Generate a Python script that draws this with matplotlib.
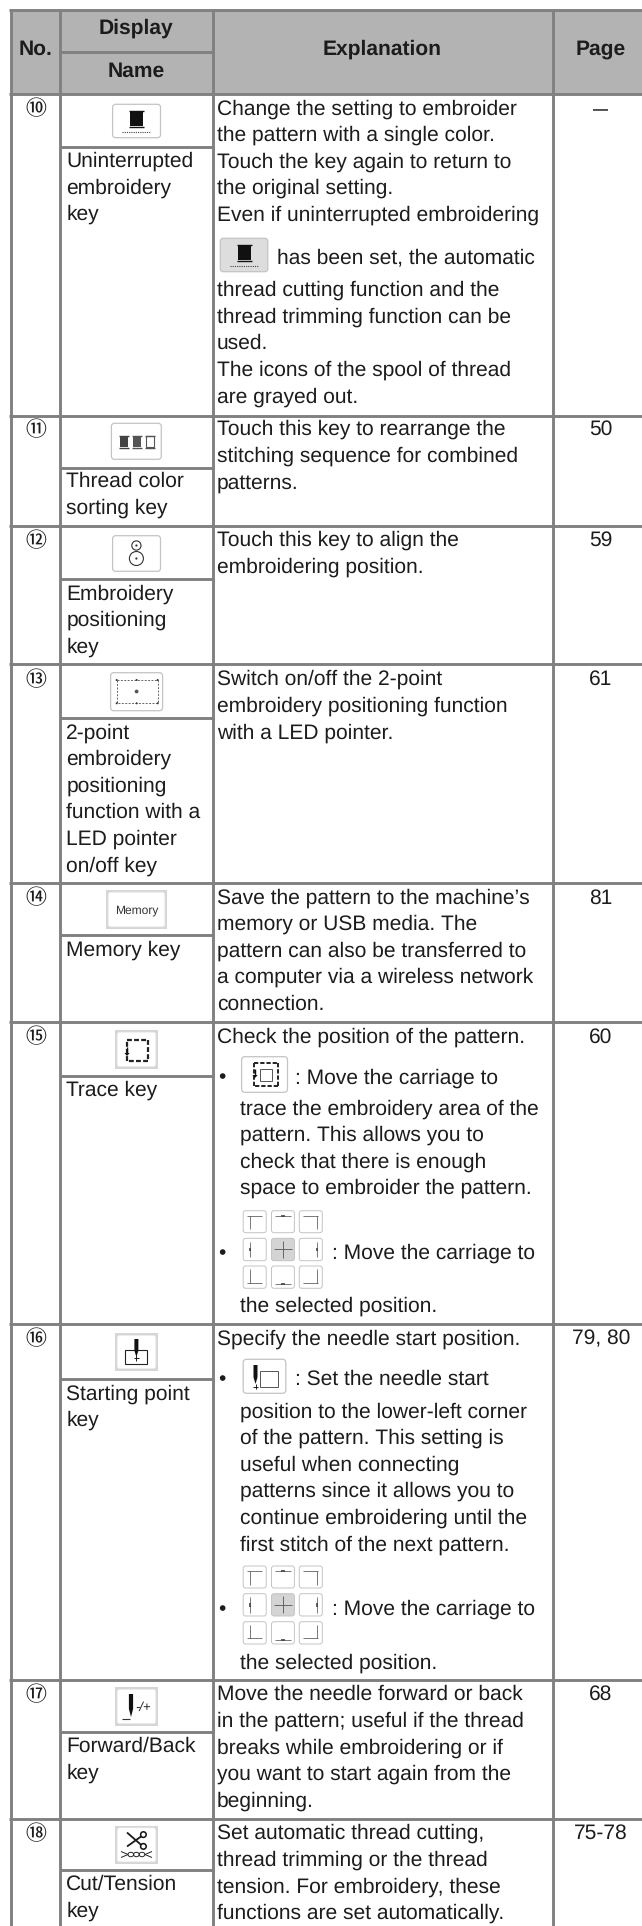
import matplotlib
matplotlib.use("Agg")
import matplotlib.pyplot as plt
from matplotlib.patches import Rectangle, FancyBboxPatch, Circle, Ellipse, Polygon

plt.rcParams["text.hinting"] = "no_hinting"
plt.rcParams["text.hinting_factor"] = 1

W, H = 642, 1926
FONT = "Liberation Sans"
FS = 15.3
FS_HEAD = 15.2
INK = "#1c1c1c"
LINE = "#808080"
HEAD = "#b3b3b3"
KEYEDGE = "#c4c4c4"

# ---- content ----
headers = ["No.", "Display", "Name", "Explanation", "Page"]
numbers = ["⑩", "⑪", "⑫", "⑬", "⑭", "⑮", "⑯", "⑰", "⑱"]
pages = ["—", "50", "59", "61", "81", "60", "79, 80", "68", "75-78"]
names = [
    ["Uninterrupted", "embroidery", "key"],
    ["Thread color", "sorting key"],
    ["Embroidery", "positioning", "key"],
    ["2-point", "embroidery", "positioning", "function with a", "LED pointer", "on/off key"],
    ["Memory key"],
    ["Trace key"],
    ["Starting point", "key"],
    ["Forward/Back", "key"],
    ["Cut/Tension", "key"],
]
explain = [
    ["Change the setting to embroider", "the pattern with a single color.", "Touch the key again to return to",
     "the original setting.", "Even if uninterrupted embroidering"],
    ["Touch this key to rearrange the", "stitching sequence for combined", "patterns."],
    ["Touch this key to align the", "embroidering position."],
    ["Switch on/off the 2-point", "embroidery positioning function", "with a LED pointer."],
    ["Save the pattern to the machine’s", "memory or USB media. The", "pattern can also be transferred to",
     "a computer via a wireless network", "connection."],
    ["Check the position of the pattern."],
    ["Specify the needle start position."],
    ["Move the needle forward or back", "in the pattern; useful if the thread", "breaks while embroidering or if",
     "you want to start again from the", "beginning."],
    ["Set automatic thread cutting,", "thread trimming or the thread", "tension. For embroidery, these",
     "functions are set automatically."],
]
row10_tail = ["thread cutting function and the", "thread trimming function can be", "used.",
              "The icons of the spool of thread", "are grayed out."]
row10_inline = "has been set, the automatic"
trace_inline = ": Move the carriage to"
trace_more = ["trace the embroidery area of the", "pattern. This allows you to",
              "check that there is enough", "space to embroider the pattern."]
selected = "the selected position."
start_inline = ": Set the needle start"
start_more = ["position to the lower-left corner", "of the pattern. This setting is", "useful when connecting",
              "patterns since it allows you to", "continue embroidering until the", "first stitch of the next pattern."]

# ---- layout (pixels) ----
col_x = [11, 60, 212.5, 552.5]
row_tops = [94, 415.7, 525.7, 664.3, 883.3, 1022.3, 1324.3, 1680, 1819.3]
name_seps = [146.7, 468.3, 579, 718.3, 935, 1076, 1379.3, 1731.7, 1870]
first_base = [114.3, 435, 546, 685, 903.3, 1042.7, 1344.3, 1700, 1839]
name_base = [166.7, 486.7, 599.3, 738.3, 956, 1096, 1399.3, 1751.7, 1890]
PITCH = 26.6
X_NUM, X_NAME, X_EXP, X_IND, X_PAGE, X_DISP = 36, 66.3, 217, 240.4, 600.7, 136.4

fig = plt.figure(figsize=(W / 100, H / 100), dpi=100, facecolor="white")
ax = fig.add_axes([0, 0, 1, 1])
ax.set_xlim(0, W)
ax.set_ylim(H, 0)
ax.axis("off")


def t(x, y, s, size=FS, weight="normal", ha="left", color=INK, family=FONT, **kw):
    ax.text(x, y, s, fontsize=size, fontweight=weight, ha=ha, va="baseline", color=color,
            family=family, zorder=9, **kw)


def L(xs, ys, c="#1a1a1a", lw=0.8, **kw):
    ax.plot(xs, ys, color=c, lw=lw, solid_capstyle="butt", zorder=6, **kw)


def key(x0, x1, y0, y1, face="white", edge=KEYEDGE, r=3.0, lw=0.9, z=5):
    ax.add_patch(FancyBboxPatch((x0 + r, y0 + r), x1 - x0 - 2 * r, y1 - y0 - 2 * r,
                                boxstyle=f"round,pad={r},rounding_size={r}", fc=face, ec=edge, lw=lw, zorder=z))


def framed(x0, x1, y0, y1):
    ax.add_patch(Rectangle((x0, y0), x1 - x0, y1 - y0, fc="#d6d6d6", ec="none", zorder=4))
    key(x0 + 2.2, x1 - 2.2, y0 + 2.2, y1 - 2.2, edge="#ececec", r=2.5, lw=0.5)


def spool(cx, y0, y1, w, color="#111111", hollow=False):
    if hollow:
        ax.add_patch(Rectangle((cx - w / 2 + 1, y0 + 1.5), w - 2, y1 - y0 - 3, fc="white", ec="#555555", lw=0.8, zorder=6))
    else:
        ax.add_patch(Rectangle((cx - w / 2 + 1, y0 + 1.5), w - 2, y1 - y0 - 3, fc=color, ec="none", zorder=6))
    for yy in (y0 + 0.7, y1 - 0.7):
        L([cx - w / 2, cx + w / 2], [yy, yy], c="#555555" if hollow else color, lw=1.0)


def needle(cx, y0, y1, w=4.0):
    ax.add_patch(Polygon([(cx - w / 2, y0), (cx + w / 2, y0), (cx + w / 2, y0 + (y1 - y0) * 0.65),
                          (cx, y1), (cx - w / 2, y0 + (y1 - y0) * 0.65)], fc="#111111", ec="none", zorder=7))


def grid3(y_rows):
    xs = [(243.2, 266.2), (271.5, 294.4), (299.3, 322.3)]
    for r, (y0, y1) in enumerate(y_rows):
        for c, (x0, x1) in enumerate(xs):
            centre = r == 1 and c == 1
            key(x0, x1, y0, y1, face="#d4d4d4" if centre else "white", r=2.5, lw=0.7)
            w, h = x1 - x0, y1 - y0
            px = lambda f: x0 + f * w
            py = lambda f: y0 + f * h
            col = "#444444"
            if centre:
                L([px(.12), px(.88)], [py(.5), py(.5)], c="#666666", lw=0.7)
                L([px(.5), px(.5)], [py(.12), py(.88)], c="#666666", lw=0.7)
            elif r == 1:
                vx = .28 if c == 0 else .75
                L([px(vx), px(vx)], [py(.15), py(.85)], c=col, lw=0.5)
                L([px(vx), px(vx)], [py(.42), py(.58)], c=col, lw=1.2)
            elif c == 1:
                hy = .23 if r == 0 else .8
                L([px(.15), px(.85)], [py(hy), py(hy)], c=col, lw=0.5)
                L([px(.42), px(.58)], [py(hy), py(hy)], c=col, lw=1.2)
            else:
                hy = .23 if r == 0 else .75
                cx_ = .28 if c == 0 else .75
                L([px(.18), px(.82)], [py(hy), py(hy)], c=col, lw=0.5)
                vy = [py(hy), py(.85)] if r == 0 else [py(.15), py(hy)]
                L([px(cx_), px(cx_)], vy, c=col, lw=0.5)


def dashed_rect(x0, x1, y0, y1, lw=1.6, dash=(2.2, 1.0)):
    for xs, ys in (([x0, x1], [y0, y0]), ([x1, x1], [y0, y1]), ([x1, x0], [y1, y1]), ([x0, x0], [y1, y0])):
        ax.plot(xs, ys, color="#222222", lw=lw, linestyle=(0, dash), zorder=6)


def down_arrow(x, y0, y1):
    L([x, x], [y0, y1 - 2], c="#111111", lw=1.0)
    ax.add_patch(Polygon([(x - 2.6, y1 - 3), (x + 2.6, y1 - 3), (x, y1)], fc="#111111", ec="none", zorder=7))


# ---- table frame ----
ax.add_patch(Rectangle((col_x[0], 10), W - col_x[0], 84, fc=HEAD, ec="none", zorder=1))
LW_H = 2.9 * 0.72
for y in [10] + row_tops:
    ax.plot([9, W], [y, y], color=LINE, lw=LW_H, solid_capstyle="butt", zorder=3)
for y in [51.7] + name_seps:
    ax.plot([col_x[1], col_x[2]], [y, y], color=LINE, lw=LW_H, solid_capstyle="butt", zorder=3)
for x in col_x:
    ax.plot([x, x], [9, H], color=LINE, lw=LW_H, solid_capstyle="butt", zorder=3)

# ---- header ----
t(X_NUM, 55, headers[0], size=FS_HEAD, weight="bold", ha="center")
t(X_DISP, 34, headers[1], size=FS_HEAD, weight="bold", ha="center")
t(X_DISP, 77, headers[2], size=FS_HEAD, weight="bold", ha="center")
t(381.7, 55, headers[3], size=FS_HEAD, weight="bold", ha="center")
t(X_PAGE, 55, headers[4], size=FS_HEAD, weight="bold", ha="center")

# ---- cells ----
for i in range(len(numbers)):
    t(X_NUM, first_base[i] + 1.0, numbers[i], size=15, ha="center", family="Noto Sans CJK JP")
    if pages[i] == "—":
        t(X_PAGE, first_base[i] - 0.5, pages[i], size=11, weight="bold", ha="center")
    else:
        t(X_PAGE, first_base[i], pages[i], ha="center")
    for j, s in enumerate(names[i]):
        t(X_NAME, name_base[i] + j * PITCH, s)
    for j, s in enumerate(explain[i]):
        t(X_EXP, first_base[i] + j * PITCH, s)

# row 10 remainder
t(277, 263.3, row10_inline)
for j, s in enumerate(row10_tail):
    t(X_EXP, 296 + j * PITCH, s)

# row 15 remainder
t(222, 1083.3, "•", ha="center")
t(294.8, 1083.3, trace_inline)
for j, s in enumerate(trace_more):
    t(X_IND, 1114.3 + j * PITCH, s)
t(222, 1259, "•", ha="center")
t(331.7, 1259, trace_inline)
t(X_IND, 1311.7, selected)

# row 16 remainder
t(222, 1385, "•", ha="center")
t(294.8, 1385, start_inline)
for j, s in enumerate(start_more):
    t(X_IND, 1417.3 + j * PITCH, s)
t(222, 1615, "•", ha="center")
t(331.7, 1615, trace_inline)
t(X_IND, 1668.3, selected)

# ---- icons ----
# row 10
key(112.6, 160.5, 104.3, 137.7)
spool(136.4, 110.5, 128, 15)
ax.plot([122, 150], [132.5, 132.5], color="#444444", lw=0.8, linestyle=(0, (1, 1)), zorder=6)
key(220.3, 267.8, 238.3, 271.7, face="#dddddd")
spool(244, 244, 261.5, 15)
ax.plot([230, 258], [266.5, 266.5], color="#444444", lw=0.8, linestyle=(0, (1, 1)), zorder=6)

# row 11
key(111.4, 161.3, 423.3, 459.3)
spool(123.7, 435, 448.5, 10, color="#444444")
spool(136.6, 435, 448.5, 10, color="#555555")
spool(149.5, 435, 448.5, 10, hollow=True)

# row 12
key(112.6, 160.5, 535.7, 571.3)
ax.add_patch(Circle((136.4, 545.5), 4.6, fc="white", ec="#333333", lw=0.8, zorder=6))
ax.add_patch(Circle((136.4, 558.5), 7.0, fc="white", ec="#333333", lw=0.8, zorder=6))
for cy in (545.5, 558.5):
    ax.add_patch(Circle((136.4, cy), 1.1, fc="#333333", ec="none", zorder=7))

# row 13
key(110.6, 162.6, 672.7, 710.7)
ax.plot([116.7, 157.7, 157.7, 116.7, 116.7], [680, 680, 703.3, 703.3, 680], color="#666666", lw=0.7,
        linestyle=(0, (2, 1.5)), zorder=6)
ax.add_patch(Circle((136.6, 691.5), 1.9, fc="#555555", ec="none", zorder=7))
for mx in (116.7, 136.6, 157.7):
    for my in (680, 703.3):
        ax.add_patch(Circle((mx, my), 1.0, fc="#333333", ec="none", zorder=7))

# row 14
framed(106, 167, 890, 929)
t(136.4, 913.5, "Memory", size=8.6, ha="center", color="#333333")

# row 15
framed(115, 158, 1030, 1068.7)
dashed_rect(127, 148.2, 1040, 1061)
down_arrow(127, 1047, 1056)
key(241.6, 287.5, 1056.7, 1092.3, r=3.5)
dashed_rect(254, 277.6, 1063.3, 1086, lw=1.4)
ax.add_patch(Rectangle((259.6, 1069.3), 12.4, 11.4, fc="white", ec="#555555", lw=0.7, zorder=7))
down_arrow(255, 1069, 1078)
grid3([(1210.7, 1232.7), (1238.3, 1260.7), (1266, 1288.3)])

# row 16
framed(115, 158, 1333.3, 1370.7)
ax.add_patch(Rectangle((125, 1350), 22.4, 14, fc="white", ec="#222222", lw=0.8, zorder=6))
needle(136.4, 1339, 1357)
L([136.4, 136.4], [1355, 1361], lw=0.7)
L([133.5, 139.3], [1358, 1358], lw=0.7)
key(243.2, 285.8, 1359.3, 1393.3, r=3.5)
ax.add_patch(Rectangle((260.4, 1370.7), 17.2, 16, fc="white", ec="#555555", lw=0.7, zorder=6))
needle(255.5, 1365, 1384)
L([255.5, 255.5], [1384, 1389], lw=0.7)
L([253, 258], [1387, 1387], lw=0.7)
grid3([(1566, 1588), (1593.7, 1616), (1621.7, 1644)])

# row 17
framed(115, 158, 1687.3, 1725.7)
needle(131, 1694, 1717, w=4.2)
L([122, 130], [1719, 1719], lw=0.8, c="#333333")
t(143.5, 1711, "-/+", size=9.5, ha="center", color="#222222", style="italic")

# row 18
framed(115, 158, 1825.7, 1864)
L([127, 141.5], [1832.5, 1845.2], lw=1.3)
L([127, 141.5], [1846.5, 1836.2], lw=1.3)
ax.add_patch(Circle((143.4, 1834.6), 2.8, fc="white", ec="#111111", lw=1.1, zorder=7))
ax.add_patch(Circle((143.4, 1846.4), 2.8, fc="white", ec="#111111", lw=1.1, zorder=7))
for ex in (130.8, 136.4, 142):
    ax.add_patch(Ellipse((ex, 1854.5), 5.6, 4.4, fc="none", ec="#222222", lw=0.7, zorder=6))
L([121, 128], [1851.5, 1854.5], lw=0.7, c="#222222")
L([121, 128], [1857.5, 1854.5], lw=0.7, c="#222222")
L([152, 145], [1851.5, 1854.5], lw=0.7, c="#222222")
L([152, 145], [1857.5, 1854.5], lw=0.7, c="#222222")

fig.savefig("out.png", dpi=100, facecolor="white")
